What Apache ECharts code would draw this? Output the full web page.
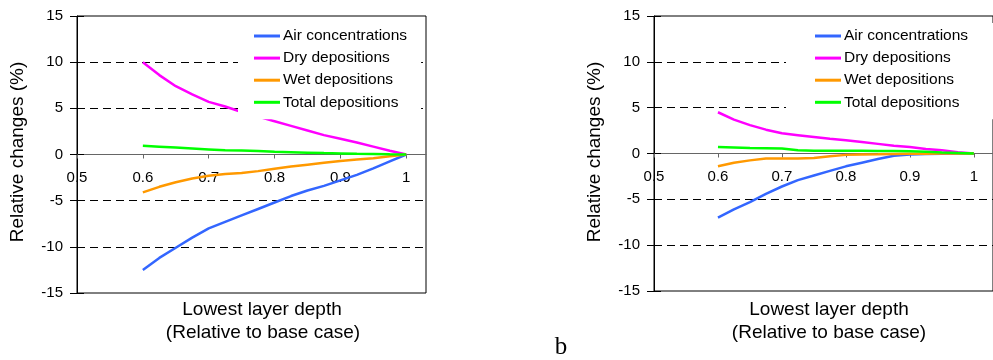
<!DOCTYPE html>
<html>
<head>
<meta charset="utf-8">
<script src="https://cdn.jsdelivr.net/npm/echarts@6/dist/echarts.min.js"></script>
<style>
    html, body { margin: 0; padding: 0; background: #fff; }
    #chart { width: 993px; height: 360px; }
</style>
</head>
<body>
<div id="chart"></div>
<script>
// lowest layer depth, relative to base case
const depths = [0.6, 0.625, 0.65, 0.675, 0.7, 0.725, 0.75, 0.775, 0.8, 0.825, 0.85, 0.875, 0.9, 0.925, 0.95, 0.975, 1]
const seriesNames = ['Air concentrations', 'Dry depositions', 'Wet depositions', 'Total depositions']
const yTicks = [-15, -10, -5, 0, 5, 10, 15]
const xTicks = [0.5, 0.6, 0.7, 0.8, 0.9, 1]

// left panel
const airA = [-12.5, -11.2, -10.1, -9.0, -8.0, -7.3, -6.6, -5.9, -5.2, -4.5, -3.9, -3.4, -2.8, -2.2, -1.5, -0.75, 0]
const dryA = [10, 8.6, 7.4, 6.5, 5.7, 5.2, 4.6, 4.1, 3.6, 3.1, 2.6, 2.1, 1.7, 1.3, 0.85, 0.4, 0]
const wetA = [-4.1, -3.5, -3.0, -2.6, -2.3, -2.1, -2.0, -1.8, -1.55, -1.3, -1.1, -0.9, -0.7, -0.55, -0.4, -0.2, 0]
const totA = [0.95, 0.85, 0.75, 0.65, 0.55, 0.45, 0.42, 0.38, 0.3, 0.25, 0.2, 0.15, 0.12, 0.08, 0.05, 0.02, 0]

// right panel (b)
const airB = [-7.0, -6.1, -5.3, -4.4, -3.6, -2.9, -2.4, -1.9, -1.4, -1.0, -0.6, -0.25, -0.1, -0.05, -0.03, -0.01, 0]
const dryB = [4.5, 3.7, 3.1, 2.6, 2.2, 2.0, 1.8, 1.6, 1.45, 1.25, 1.05, 0.85, 0.7, 0.5, 0.35, 0.15, 0]
const wetB = [-1.4, -1.0, -0.75, -0.55, -0.55, -0.55, -0.5, -0.3, -0.15, -0.1, -0.08, -0.05, -0.03, -0.02, -0.01, 0, 0]
const totB = [0.7, 0.65, 0.6, 0.58, 0.55, 0.35, 0.3, 0.3, 0.3, 0.3, 0.28, 0.27, 0.25, 0.2, 0.12, 0.06, 0]

const colors = ['#3366ff', '#ff00ff', '#ff9900', '#00ff00']
const font = '"Liberation Sans", Arial, sans-serif'

const chart = echarts.init(document.getElementById('chart'), null, { renderer: 'canvas' })

function pairs(vals) {
    return depths.map((d, i) => [d, vals[i]])
}

// x axis sits on y = 0, i.e. half way up the plot (y range is symmetric)
function xAxisFor(gridIndex, plotHeight) {
    return {
        type: 'value',
        gridIndex,
        position: 'bottom',
        offset: -plotHeight / 2,
        min: xTicks[0],
        max: 1.03,
        interval: 0.1,
        axisLine: { onZero: false, lineStyle: { color: '#666', width: 1 } },
        axisTick: { show: true, length: 4, lineStyle: { color: '#666' } },
        axisLabel: {
            margin: 16,
            showMaxLabel: false,
            color: '#000',
            fontSize: 15,
            fontFamily: font,
            formatter: v => xTicks.some(t => Math.abs(t - v) < 1e-6) ? String(+v.toFixed(1)) : ''
        },
        splitLine: { show: false }
    }
}

function yAxisFor(gridIndex) {
    return {
        type: 'value',
        gridIndex,
        min: yTicks[0],
        max: yTicks[yTicks.length - 1],
        interval: 5,
        axisLine: { show: true, onZero: false, lineStyle: { color: '#000', width: 1 } },
        axisTick: { show: true, length: 7, lineStyle: { color: '#000' } },
        axisLabel: { margin: 14, color: '#000', fontSize: 15, fontFamily: font },
        splitLine: {
            show: true,
            showMinLine: false,
            showMaxLine: false,
            lineStyle: { color: '#000', width: 1, type: [8, 5] }
        }
    }
}

// second y axis per grid only for the inner half of the crossing tick marks
function yTicksInside(gridIndex) {
    return {
        type: 'value',
        gridIndex,
        position: 'left',
        min: yTicks[0],
        max: yTicks[yTicks.length - 1],
        interval: 5,
        axisLine: { show: false },
        axisTick: { show: true, inside: true, length: 7, lineStyle: { color: '#000' } },
        axisLabel: { show: false },
        splitLine: { show: false }
    }
}

function lines(gridIndex, sets) {
    return sets.map((vals, i) => ({
        name: seriesNames[i],
        type: 'line',
        xAxisIndex: gridIndex,
        yAxisIndex: gridIndex,
        data: pairs(vals),
        symbol: 'none',
        lineStyle: { color: colors[i], width: 2.5 },
        itemStyle: { color: colors[i] },
        z: 3
    }))
}

function legendFor(left, padding) {
    return {
        orient: 'vertical',
        left,
        top: 23,
        padding,
        backgroundColor: '#fff',
        icon: 'rect',
        itemWidth: 26,
        itemHeight: 3,
        itemGap: 6.1,
        textStyle: { fontSize: 15.5, fontFamily: font, color: '#000', padding: [0, 0, 0, -2] },
        data: seriesNames,
        selectedMode: false
    }
}

const titleStyle = { align: 'center', verticalAlign: 'middle', fontSize: 19, fontFamily: font, fill: '#000' }

chart.setOption({
    animation: false,
    backgroundColor: '#fff',
    grid: [
        { left: 77, top: 16, width: 349, height: 277, show: true, borderColor: '#000', borderWidth: 1, backgroundColor: 'transparent' },
        { left: 654, top: 16, width: 349, height: 275, show: true, borderColor: '#000', borderWidth: 1, backgroundColor: 'transparent' }
    ],
    xAxis: [xAxisFor(0, 277), xAxisFor(1, 275)],
    yAxis: [yAxisFor(0), yAxisFor(1), yTicksInside(0), yTicksInside(1)],
    legend: [
        legendFor(238, [5, 14, 9, 16]),
        legendFor(786, [5, 40, 9, 29])
    ],
    series: lines(0, [airA, dryA, wetA, totA]).concat(lines(1, [airB, dryB, wetB, totB])),
    graphic: [
        { type: 'text', x: 262, y: 310, style: Object.assign({ text: 'Lowest layer depth' }, titleStyle) },
        { type: 'text', x: 263, y: 333, style: Object.assign({ text: '(Relative to base case)' }, titleStyle) },
        { type: 'text', x: 829, y: 310, style: Object.assign({ text: 'Lowest layer depth' }, titleStyle) },
        { type: 'text', x: 829, y: 333, style: Object.assign({ text: '(Relative to base case)' }, titleStyle) },
        { type: 'text', x: 18, y: 152, rotation: Math.PI / 2, style: Object.assign({ text: 'Relative changes (%)' }, titleStyle) },
        { type: 'text', x: 595, y: 152, rotation: Math.PI / 2, style: Object.assign({ text: 'Relative changes (%)' }, titleStyle) },
        { type: 'text', x: 561, y: 347, style: { text: 'b', align: 'center', verticalAlign: 'middle', fontSize: 25, fontFamily: '"Liberation Serif", "Times New Roman", serif', fill: '#000' } }
    ]
})

window.addEventListener('resize', () => chart.resize())
</script>
</body>
</html>
